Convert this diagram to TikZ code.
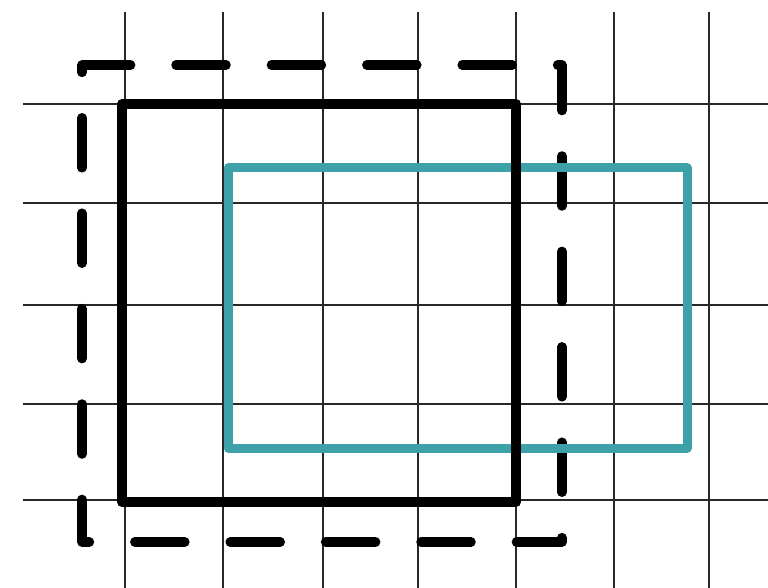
\documentclass[tikz,border=0pt]{standalone}
\usetikzlibrary{calc}
\definecolor{tealline}{RGB}{62,160,168}
\definecolor{gridline}{RGB}{40,40,40}
\tikzset{
  gridstyle/.style={draw=gridline, line width=1.5pt},
  dashrect/.style={draw=black, line width=9.5pt, line cap=round, line join=round,
    dash pattern=on 50pt off 45.4pt, dash phase=1.4pt},
  tealrect/.style={draw=tealline, line width=9pt, line join=round},
  blackrect/.style={draw=black, line width=10pt, line join=round},
}
\begin{document}
\begin{tikzpicture}[x=1pt,y=-1pt]
\useasboundingbox (0,0) rectangle (768,588);
\fill[white] (0,0) rectangle (768,588);
% grid
\foreach \gx in {125,223,323,418,516,614,709}
  \draw[gridstyle] (\gx,12) -- (\gx,588);
\foreach \gy in {104,203,305,404,500}
  \draw[gridstyle] (23,\gy) -- (768,\gy);
% dashed rectangle
\draw[dashrect] (82,65) -- (562,65) -- (562,542) -- (82,542) -- cycle;
% teal rectangle
\draw[tealrect] (228,168) rectangle (687,448);
% black square
\draw[blackrect] (122,104) rectangle (516,502);
\end{tikzpicture}
\end{document}
